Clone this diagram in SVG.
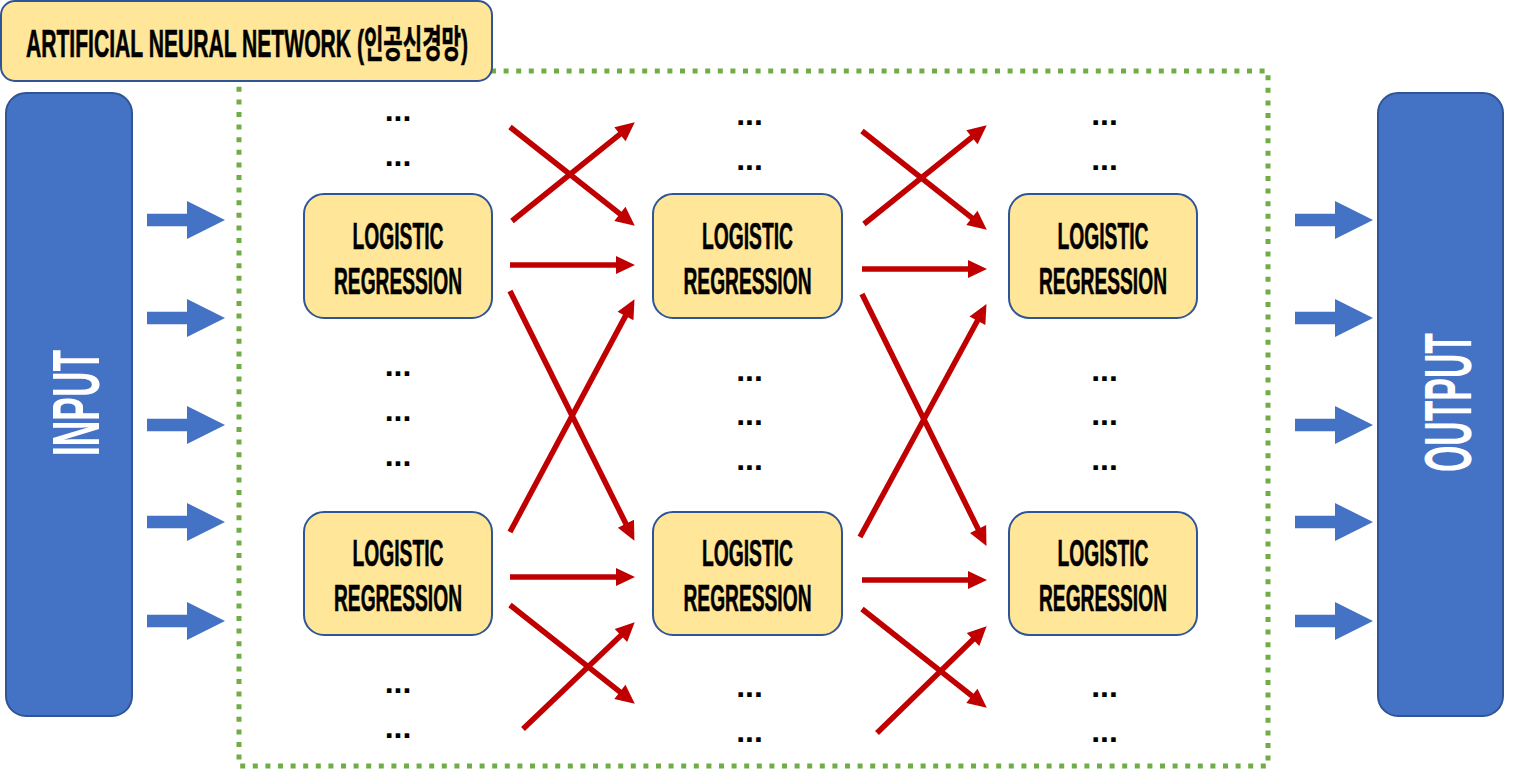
<svg xmlns="http://www.w3.org/2000/svg" width="1521" height="772" viewBox="0 0 1521 772">
<style>
.node{fill:#FFE699;stroke:#2F5597;stroke-width:2}
.io{fill:#4472C4;stroke:#2F5597;stroke-width:2}
.t{font-family:"Liberation Sans","Noto Sans CJK KR",sans-serif;font-weight:bold;fill:#000;text-anchor:middle}
.lr{font-size:37px;stroke:#000;stroke-width:0.6}
.dots{font-size:32px}
.iot{font-size:67px;fill:#fff}
.red{stroke:#C00000;stroke-width:5.5;fill:none;marker-end:url(#ah)}
.blue{fill:#4472C4}
</style>
<defs>
<marker id="ah" markerUnits="userSpaceOnUse" markerWidth="20" markerHeight="20" refX="12.5" refY="9" orient="auto" overflow="visible">
<path d="M0,0 L19,9 L0,18 Z" fill="#C00000"/>
</marker>
<path id="barrow" d="M0,-6.3 H40 V-19 L78,0 L40,19 V6.3 H0 Z"/>
</defs>
<rect x="239" y="71" width="1029" height="695" fill="none" stroke="#70AD47" stroke-width="5" stroke-dasharray="5 7.6"/>
<g id="title">
<rect x="1" y="1" width="491" height="80" rx="14" class="node"/>
<text x="247" y="57" class="t" font-size="38" stroke="#000" stroke-width="0.6" textLength="442" lengthAdjust="spacingAndGlyphs">ARTIFICIAL NEURAL NETWORK (인공신경망)</text>
</g>
<g id="input">
<rect x="6" y="93" width="126" height="623" rx="20" class="io"/>
<text class="t iot" transform="translate(99,403) rotate(-90)" x="0" y="0" textLength="106" lengthAdjust="spacingAndGlyphs">INPUT</text>
</g>
<g id="output">
<rect x="1378" y="93" width="125" height="623" rx="20" class="io"/>
<text class="t iot" transform="translate(1471,402.5) rotate(-90)" x="0" y="0" textLength="139" lengthAdjust="spacingAndGlyphs">OUTPUT</text>
</g>
<g id="n11"><rect x="304" y="194" width="188" height="124" rx="20" class="node"/>
<text x="398" y="249" class="t lr" textLength="91" lengthAdjust="spacingAndGlyphs">LOGISTIC</text>
<text x="398" y="294" class="t lr" textLength="128" lengthAdjust="spacingAndGlyphs">REGRESSION</text></g>
<g id="n12"><rect x="304" y="512" width="188" height="123" rx="20" class="node"/>
<text x="398" y="566" class="t lr" textLength="91" lengthAdjust="spacingAndGlyphs">LOGISTIC</text>
<text x="398" y="611" class="t lr" textLength="128" lengthAdjust="spacingAndGlyphs">REGRESSION</text></g>
<g id="n21"><rect x="653" y="194" width="189" height="124" rx="20" class="node"/>
<text x="747.5" y="249" class="t lr" textLength="91" lengthAdjust="spacingAndGlyphs">LOGISTIC</text>
<text x="747.5" y="294" class="t lr" textLength="128" lengthAdjust="spacingAndGlyphs">REGRESSION</text></g>
<g id="n22"><rect x="653" y="512" width="189" height="123" rx="20" class="node"/>
<text x="747.5" y="566" class="t lr" textLength="91" lengthAdjust="spacingAndGlyphs">LOGISTIC</text>
<text x="747.5" y="611" class="t lr" textLength="128" lengthAdjust="spacingAndGlyphs">REGRESSION</text></g>
<g id="n31"><rect x="1009" y="194" width="188" height="124" rx="20" class="node"/>
<text x="1103" y="249" class="t lr" textLength="91" lengthAdjust="spacingAndGlyphs">LOGISTIC</text>
<text x="1103" y="294" class="t lr" textLength="128" lengthAdjust="spacingAndGlyphs">REGRESSION</text></g>
<g id="n32"><rect x="1009" y="512" width="188" height="123" rx="20" class="node"/>
<text x="1103" y="566" class="t lr" textLength="91" lengthAdjust="spacingAndGlyphs">LOGISTIC</text>
<text x="1103" y="611" class="t lr" textLength="128" lengthAdjust="spacingAndGlyphs">REGRESSION</text></g>
<g id="dots">
<text x="398" y="121" class="t dots">...</text>
<text x="398" y="166" class="t dots">...</text>
<text x="398" y="376" class="t dots">...</text>
<text x="398" y="421" class="t dots">...</text>
<text x="398" y="466" class="t dots">...</text>
<text x="398" y="693" class="t dots">...</text>
<text x="398" y="738" class="t dots">...</text>
<text x="749.5" y="125" class="t dots">...</text>
<text x="749.5" y="170" class="t dots">...</text>
<text x="749.5" y="381" class="t dots">...</text>
<text x="749.5" y="425" class="t dots">...</text>
<text x="749.5" y="470" class="t dots">...</text>
<text x="749.5" y="697" class="t dots">...</text>
<text x="749.5" y="742" class="t dots">...</text>
<text x="1104.5" y="125" class="t dots">...</text>
<text x="1104.5" y="170" class="t dots">...</text>
<text x="1104.5" y="381" class="t dots">...</text>
<text x="1104.5" y="425" class="t dots">...</text>
<text x="1104.5" y="470" class="t dots">...</text>
<text x="1104.5" y="697" class="t dots">...</text>
<text x="1104.5" y="742" class="t dots">...</text>
</g>
<g id="connectors">
<g class="blue">
<use href="#barrow" x="147" y="220"/>
<use href="#barrow" x="147" y="318"/>
<use href="#barrow" x="147" y="425"/>
<use href="#barrow" x="147" y="522"/>
<use href="#barrow" x="147" y="621"/>
<use href="#barrow" x="1295" y="220"/>
<use href="#barrow" x="1295" y="318"/>
<use href="#barrow" x="1295" y="425"/>
<use href="#barrow" x="1295" y="522"/>
<use href="#barrow" x="1295" y="621"/>
</g>
<line class="red" x1="512" y1="221" x2="629.7" y2="126.4"/>
<line class="red" x1="510" y1="127" x2="629.7" y2="221.6"/>
<line class="red" x1="510" y1="265" x2="628.5" y2="265"/>
<line class="red" x1="510" y1="291" x2="631.5" y2="535"/>
<line class="red" x1="510" y1="532" x2="631.4" y2="304.9"/>
<line class="red" x1="510" y1="577" x2="628.5" y2="577"/>
<line class="red" x1="510" y1="605" x2="629.7" y2="699.6"/>
<line class="red" x1="523" y1="729" x2="630" y2="626.8"/>
<line class="red" x1="864" y1="224" x2="981.7" y2="129.4"/>
<line class="red" x1="862" y1="131" x2="981.7" y2="225.6"/>
<line class="red" x1="862" y1="269" x2="980.5" y2="269"/>
<line class="red" x1="862" y1="294" x2="983.6" y2="540.1"/>
<line class="red" x1="860" y1="537" x2="983.4" y2="309.8"/>
<line class="red" x1="862" y1="580" x2="980.5" y2="580"/>
<line class="red" x1="862" y1="609" x2="981.7" y2="703.6"/>
<line class="red" x1="877" y1="733" x2="982" y2="630.8"/>
</g>
</svg>
